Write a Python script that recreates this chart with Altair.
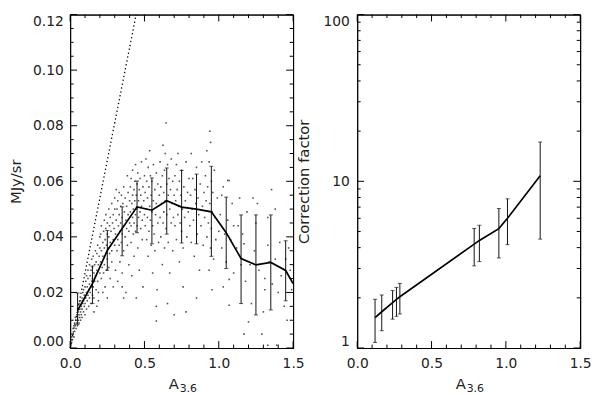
import altair as alt
import pandas as pd

FONT = "DejaVu Sans"
TXT = "#222222"
W, H = 226, 338

# ---------------- left panel data ----------------
bin_x = [0.05, 0.15, 0.25, 0.35, 0.45, 0.55, 0.65, 0.75, 0.85, 0.95, 1.05, 1.15, 1.25, 1.35, 1.45]
bin_y = [0.0135, 0.0232, 0.0351, 0.0430, 0.0508, 0.0496, 0.0530, 0.0507, 0.0500, 0.0490, 0.0415, 0.0322, 0.0299, 0.0308, 0.0279]
bin_lo = [0.0085, 0.0160, 0.0280, 0.0332, 0.0415, 0.0375, 0.0410, 0.0378, 0.0375, 0.0330, 0.0286, 0.0160, 0.0119, 0.0137, 0.0170]
bin_hi = [0.0198, 0.0295, 0.0423, 0.0508, 0.0601, 0.0612, 0.0648, 0.0639, 0.0626, 0.0654, 0.0543, 0.0479, 0.0479, 0.0479, 0.0386]
line_end_x = [1.5]
line_end_y = [0.0232]

dot_x = [0.0, 0.444]
dot_y = [0.0, 0.12]

pts_a = [(0.005, 0.001), (0.01, 0.002), (0.01, 0.004), (0.015, 0.003), (0.02, 0.005), (0.02, 0.007),
         (0.025, 0.004), (0.025, 0.008), (0.03, 0.006), (0.03, 0.009), (0.035, 0.008), (0.035, 0.011),
         (0.04, 0.007), (0.04, 0.01), (0.045, 0.009), (0.045, 0.012), (0.05, 0.008), (0.05, 0.011),
         (0.05, 0.014), (0.055, 0.01), (0.055, 0.013), (0.06, 0.009), (0.06, 0.012), (0.06, 0.016),
         (0.065, 0.011), (0.065, 0.014), (0.07, 0.013), (0.07, 0.017), (0.07, 0.01), (0.075, 0.015),
         (0.075, 0.012), (0.08, 0.014), (0.08, 0.018), (0.08, 0.011), (0.085, 0.016), (0.085, 0.02),
         (0.09, 0.013), (0.09, 0.017), (0.09, 0.021), (0.095, 0.015), (0.095, 0.019), (0.1, 0.016),
         (0.1, 0.012), (0.1, 0.022)]
pts_b = [(0.105, 0.018), (0.105, 0.024), (0.11, 0.014), (0.11, 0.02), (0.11, 0.026), (0.115, 0.017),
         (0.115, 0.022), (0.12, 0.019), (0.12, 0.025), (0.12, 0.028), (0.125, 0.015), (0.125, 0.021),
         (0.13, 0.023), (0.13, 0.018), (0.13, 0.03), (0.135, 0.02), (0.135, 0.026), (0.14, 0.022),
         (0.14, 0.028), (0.14, 0.016), (0.145, 0.024), (0.145, 0.032), (0.15, 0.019), (0.15, 0.025),
         (0.15, 0.029), (0.155, 0.022), (0.155, 0.033), (0.16, 0.027), (0.16, 0.018), (0.165, 0.024),
         (0.165, 0.03), (0.17, 0.026), (0.17, 0.035), (0.175, 0.021), (0.175, 0.031), (0.18, 0.028),
         (0.18, 0.034), (0.185, 0.024), (0.185, 0.037), (0.19, 0.03), (0.19, 0.02), (0.195, 0.033),
         (0.2, 0.027), (0.2, 0.036), (0.2, 0.04), (0.16, 0.013), (0.18, 0.015), (0.19, 0.017)]
pts_c = [(0.205, 0.031), (0.205, 0.041), (0.21, 0.025), (0.21, 0.035), (0.21, 0.044), (0.215, 0.029),
         (0.22, 0.033), (0.22, 0.038), (0.22, 0.02), (0.225, 0.042), (0.225, 0.027), (0.23, 0.036),
         (0.23, 0.046), (0.23, 0.03), (0.235, 0.039), (0.235, 0.022), (0.24, 0.034), (0.24, 0.043),
         (0.24, 0.048), (0.245, 0.028), (0.245, 0.037), (0.25, 0.032), (0.25, 0.041), (0.25, 0.045),
         (0.25, 0.018), (0.255, 0.036), (0.26, 0.04), (0.26, 0.029), (0.26, 0.05), (0.265, 0.034),
         (0.265, 0.044), (0.27, 0.038), (0.27, 0.047), (0.27, 0.025), (0.275, 0.042), (0.28, 0.035),
         (0.28, 0.052), (0.28, 0.031), (0.285, 0.045), (0.29, 0.039), (0.29, 0.048), (0.29, 0.022),
         (0.295, 0.043), (0.3, 0.037), (0.3, 0.05), (0.3, 0.054)]
pts_d = [(0.305, 0.041), (0.305, 0.028), (0.31, 0.046), (0.31, 0.057), (0.315, 0.035), (0.315, 0.05),
         (0.32, 0.039), (0.32, 0.053), (0.32, 0.024), (0.325, 0.044), (0.33, 0.048), (0.33, 0.037),
         (0.33, 0.056), (0.335, 0.042), (0.335, 0.031), (0.34, 0.051), (0.34, 0.045), (0.345, 0.038),
         (0.345, 0.055), (0.35, 0.047), (0.35, 0.041), (0.35, 0.027), (0.355, 0.052), (0.36, 0.044),
         (0.36, 0.058), (0.36, 0.035), (0.365, 0.049), (0.37, 0.04), (0.37, 0.054), (0.375, 0.046),
         (0.375, 0.02), (0.38, 0.051), (0.38, 0.043), (0.385, 0.062), (0.385, 0.037), (0.39, 0.048),
         (0.39, 0.056), (0.395, 0.042), (0.395, 0.03), (0.4, 0.053), (0.4, 0.045), (0.35, 0.022),
         (0.36, 0.018)]
pts_e = [(0.405, 0.049), (0.405, 0.058), (0.41, 0.044), (0.41, 0.038), (0.41, 0.061), (0.415, 0.052),
         (0.415, 0.026), (0.42, 0.047), (0.42, 0.055), (0.42, 0.064), (0.425, 0.041), (0.425, 0.05),
         (0.43, 0.057), (0.43, 0.045), (0.43, 0.033), (0.435, 0.053), (0.435, 0.06), (0.44, 0.048),
         (0.44, 0.042), (0.44, 0.066), (0.445, 0.055), (0.445, 0.018), (0.45, 0.05), (0.45, 0.059),
         (0.45, 0.044), (0.455, 0.063), (0.455, 0.036), (0.46, 0.053), (0.46, 0.047), (0.465, 0.057),
         (0.465, 0.028), (0.47, 0.061), (0.47, 0.049), (0.475, 0.043), (0.475, 0.055), (0.48, 0.067),
         (0.48, 0.051), (0.485, 0.046), (0.485, 0.039), (0.49, 0.058), (0.49, 0.022), (0.495, 0.053),
         (0.5, 0.048), (0.5, 0.062)]
pts_f = [(0.505, 0.044), (0.505, 0.056), (0.51, 0.068), (0.51, 0.05), (0.515, 0.039), (0.515, 0.06),
         (0.52, 0.054), (0.52, 0.047), (0.525, 0.065), (0.525, 0.033), (0.53, 0.058), (0.53, 0.042),
         (0.535, 0.051), (0.535, 0.071), (0.54, 0.046), (0.54, 0.062), (0.545, 0.037), (0.545, 0.055),
         (0.55, 0.049), (0.55, 0.06), (0.555, 0.027), (0.555, 0.044), (0.56, 0.066), (0.56, 0.053),
         (0.565, 0.041), (0.57, 0.057), (0.57, 0.035), (0.575, 0.048), (0.58, 0.063), (0.58, 0.052),
         (0.58, 0.015), (0.58, 0.0097), (0.585, 0.021), (0.59, 0.045), (0.59, 0.059), (0.595, 0.038),
         (0.6, 0.055)]
pts_g = [(0.605, 0.047), (0.605, 0.067), (0.61, 0.058), (0.61, 0.04), (0.615, 0.052), (0.62, 0.062),
         (0.62, 0.03), (0.625, 0.045), (0.625, 0.073), (0.63, 0.056), (0.63, 0.049), (0.635, 0.064),
         (0.635, 0.036), (0.64, 0.053), (0.64, 0.07), (0.645, 0.081), (0.645, 0.043), (0.65, 0.059),
         (0.65, 0.048), (0.655, 0.066), (0.655, 0.016), (0.66, 0.055), (0.66, 0.038), (0.665, 0.061),
         (0.67, 0.05), (0.67, 0.027), (0.675, 0.057), (0.68, 0.045), (0.68, 0.068), (0.685, 0.052),
         (0.69, 0.035), (0.69, 0.06), (0.695, 0.047), (0.7, 0.055), (0.7, 0.012)]
pts_h = [(0.705, 0.062), (0.705, 0.044), (0.71, 0.053), (0.715, 0.066), (0.715, 0.039), (0.72, 0.057),
         (0.725, 0.048), (0.725, 0.07), (0.73, 0.051), (0.735, 0.031), (0.735, 0.06), (0.74, 0.045),
         (0.745, 0.055), (0.75, 0.064), (0.75, 0.042), (0.755, 0.05), (0.76, 0.036), (0.76, 0.022),
         (0.765, 0.058), (0.77, 0.047), (0.775, 0.053), (0.78, 0.013), (0.78, 0.067), (0.785, 0.04),
         (0.79, 0.056), (0.795, 0.049), (0.8, 0.061)]
pts_i = [(0.805, 0.044), (0.81, 0.055), (0.815, 0.07), (0.815, 0.038), (0.82, 0.05), (0.825, 0.061),
         (0.83, 0.046), (0.835, 0.033), (0.84, 0.057), (0.845, 0.052), (0.85, 0.018), (0.85, 0.065),
         (0.855, 0.041), (0.86, 0.054), (0.865, 0.048), (0.87, 0.028), (0.875, 0.059), (0.88, 0.044),
         (0.885, 0.067), (0.89, 0.051), (0.895, 0.037), (0.9, 0.056)]
pts_j = [(0.905, 0.047), (0.91, 0.062), (0.915, 0.053), (0.92, 0.071), (0.92, 0.04), (0.925, 0.058),
         (0.93, 0.045), (0.935, 0.067), (0.935, 0.028), (0.94, 0.078), (0.94, 0.052), (0.945, 0.074),
         (0.945, 0.036), (0.95, 0.06), (0.95, 0.043), (0.955, 0.049), (0.955, 0.021), (0.96, 0.056),
         (0.965, 0.032), (0.97, 0.064), (0.975, 0.047), (0.98, 0.039), (0.99, 0.054), (1.0, 0.042)]
pts_k = [(1.01, 0.048), (1.02, 0.036), (1.02, 0.055), (1.03, 0.058), (1.03, 0.022), (1.04, 0.041),
         (1.05, 0.031), (1.06, 0.046), (1.06, 0.0603), (1.07, 0.0603), (1.07, 0.0247), (1.07, 0.0154),
         (1.08, 0.039), (1.09, 0.052), (1.1, 0.027), (1.1, 0.044), (1.12, 0.036), (1.13, 0.044),
         (1.14, 0.054), (1.15, 0.03), (1.16, 0.041), (1.17, 0.0375), (1.17, 0.005), (1.18, 0.024),
         (1.19, 0.049), (1.2, 0.0094), (1.21, 0.03), (1.22, 0.016), (1.23, 0.054), (1.24, 0.035),
         (1.25, 0.045), (1.26, 0.052), (1.27, 0.028), (1.29, 0.005), (1.3, 0.013), (1.31, 0.021),
         (1.31, 0.025), (1.33, 0.001), (1.33, 0.037), (1.33, 0.047), (1.34, 0.031), (1.355, 0.057),
         (1.36, 0.023), (1.38, 0.05), (1.38, 0.032), (1.39, 0.001), (1.4, 0.02), (1.41, 0.038),
         (1.42, 0.026), (1.44, 0.015), (1.45, 0.032), (1.46, 0.01), (1.47, 0.036), (1.48, 0.028),
         (1.49, 0.021)]

# ---------------- right panel data ----------------
cf_x = [0.120, 0.165, 0.238, 0.264, 0.287, 0.787, 0.822, 0.953, 1.011, 1.231]
cf_y = [1.52, 1.65, 1.87, 1.96, 2.03, 4.20, 4.42, 5.20, 6.00, 10.8]
cf_lo = [1.08, 1.27, 1.49, 1.55, 1.60, 3.11, 3.30, 3.47, 4.17, 4.50]
cf_hi = [1.96, 2.08, 2.21, 2.31, 2.44, 5.21, 5.45, 6.87, 7.85, 17.2]

# ---------------- axis / text definitions ----------------
x_dom = [0.0, 1.5]
yl_dom = [0.0, 0.12]
yr_dom = [1, 100]
x_major = [0.0, 0.5, 1.0, 1.5]
x_minor = [0.1, 0.2, 0.3, 0.4, 0.6, 0.7, 0.8, 0.9, 1.1, 1.2, 1.3, 1.4]
yl_major = [0.0, 0.02, 0.04, 0.06, 0.08, 0.10, 0.12]
yl_minor = [0.005, 0.01, 0.015, 0.025, 0.03, 0.035, 0.045, 0.05, 0.055, 0.065, 0.07, 0.075,
            0.085, 0.09, 0.095, 0.105, 0.11, 0.115]
yr_major = [1, 10, 100]
yr_minor = [2, 3, 4, 5, 6, 7, 8, 9, 20, 30, 40, 50, 60, 70, 80, 90]
left_ytitle = "MJy/sr"
right_ytitle = "Correction factor"
xtitle_main = ["A"]
xtitle_sub = ["3.6"]

# ---------------- build ----------------
xs = alt.Scale(domain=x_dom, nice=False, zero=False)
ysl = alt.Scale(domain=yl_dom, nice=False, zero=False)
ysr = alt.Scale(type="log", domain=yr_dom, nice=False)

DOM = dict(domain=True, domainColor="black", domainWidth=1, domainOpacity=1)
XAX = alt.Axis(values=x_major, format=".1f", title=None, labelPadding=9, labelFlush=False, **DOM)
YAX_L = alt.Axis(values=yl_major, format=".2f", title=left_ytitle,
                 labelFlush=True, labelPadding=7, titlePadding=9, **DOM)
YAX_R = alt.Axis(values=yr_major, format="d", title=right_ytitle,
                 labelFlush=True, labelPadding=8, titlePadding=12, **DOM)
XAX_TOP = alt.Axis(orient="top", labels=False, title=None, minExtent=0, **DOM)
YAX_RIGHT = alt.Axis(orient="right", labels=False, title=None, minExtent=0, **DOM)

MAJ, MIN = 7, 3.5


def Xn(field):
    return alt.X(field, scale=xs, axis=None)


def tick_layers(ymaj, ymin, yscale):
    layers = []
    for vals, ln in ((x_major, MAJ), (x_minor, MIN)):
        d = pd.DataFrame({"tx": vals})
        b = alt.Chart(d).mark_rule(color="black", strokeWidth=1)
        layers.append(b.encode(x=alt.X("tx:Q", scale=xs, axis=None), y=alt.value(H), y2=alt.value(H - ln)))
        layers.append(b.encode(x=alt.X("tx:Q", scale=xs, axis=None), y=alt.value(0), y2=alt.value(ln)))
    for vals, ln in ((ymaj, MAJ), (ymin, MIN)):
        d = pd.DataFrame({"ty": vals})
        b = alt.Chart(d).mark_rule(color="black", strokeWidth=1)
        ye = alt.Y("ty:Q", scale=yscale, axis=None)
        layers.append(b.encode(y=ye, x=alt.value(0), x2=alt.value(ln)))
        layers.append(b.encode(y=ye, x=alt.value(W), x2=alt.value(W - ln)))
    return layers


def frame_axes_layer(df, yscale):
    # invisible marks that only carry the top and right axis lines (the frame)
    return alt.Chart(df).mark_point(opacity=0).encode(
        x=alt.X("x:Q", scale=xs, axis=XAX_TOP),
        y=alt.Y("y:Q", scale=yscale, axis=YAX_RIGHT),
    )


def xtitle_layers():
    a = alt.Chart(pd.DataFrame({"t": xtitle_main})).mark_text(
        align="left", baseline="alphabetic", font=FONT, fontSize=15, color=TXT
    ).encode(text="t:N", x=alt.value(100), y=alt.value(H + 42))
    s = alt.Chart(pd.DataFrame({"t": xtitle_sub})).mark_text(
        align="left", baseline="alphabetic", font=FONT, fontSize=11, color=TXT
    ).encode(text="t:N", x=alt.value(111), y=alt.value(H + 45))
    return [a, s]


def errbar_layers(df, yscale):
    bar = alt.Chart(df).mark_rule(color="#111111", strokeWidth=1).encode(
        x=Xn("x:Q"), y=alt.Y("lo:Q", scale=yscale, axis=None), y2="hi:Q")
    clo = alt.Chart(df).mark_tick(orient="horizontal", size=4, thickness=1, color="#111111").encode(
        x=Xn("x:Q"), y=alt.Y("lo:Q", scale=yscale, axis=None))
    chi = alt.Chart(df).mark_tick(orient="horizontal", size=4, thickness=1, color="#111111").encode(
        x=Xn("x:Q"), y=alt.Y("hi:Q", scale=yscale, axis=None))
    return [bar, clo, chi]


# left panel
pts = pts_a + pts_b + pts_c + pts_d + pts_e + pts_f + pts_g + pts_h + pts_i + pts_j + pts_k
scat_df = pd.DataFrame({"x": [p[0] for p in pts], "y": [p[1] for p in pts]})
scatter = alt.Chart(scat_df).mark_square(size=2.5, color="#333333", opacity=0.85).encode(
    x=alt.X("x:Q", scale=xs, axis=XAX), y=alt.Y("y:Q", scale=ysl, axis=YAX_L))
dot_df = pd.DataFrame({"x": dot_x, "y": dot_y})
dotted = alt.Chart(dot_df).mark_line(color="black", strokeWidth=1.3, strokeDash=[1.3, 2.7]).encode(
    x=Xn("x:Q"), y=alt.Y("y:Q", scale=ysl, axis=None))

bin_df = pd.DataFrame({"x": bin_x, "lo": bin_lo, "hi": bin_hi})
line_df = pd.DataFrame({"x": bin_x + line_end_x, "y": bin_y + line_end_y})
prof = alt.Chart(line_df).mark_line(color="black", strokeWidth=1.7).encode(
    x=Xn("x:Q"), y=alt.Y("y:Q", scale=ysl, axis=None))

left = alt.layer(
    scatter, frame_axes_layer(dot_df, ysl), dotted, *errbar_layers(bin_df, ysl), prof,
    *tick_layers(yl_major, yl_minor, ysl),
    *xtitle_layers()
).resolve_axis(x="independent", y="independent").properties(width=W, height=H)

# right panel
cf_df = pd.DataFrame({"x": cf_x, "y": cf_y, "lo": cf_lo, "hi": cf_hi})
cf_line = alt.Chart(cf_df).mark_line(color="black", strokeWidth=1.7).encode(
    x=alt.X("x:Q", scale=xs, axis=XAX), y=alt.Y("y:Q", scale=ysr, axis=YAX_R))

right = alt.layer(
    cf_line, frame_axes_layer(cf_df, ysr), *errbar_layers(cf_df, ysr),
    *tick_layers(yr_major, yr_minor, ysr),
    *xtitle_layers()
).resolve_axis(x="independent", y="independent").properties(width=W, height=H)

chart = alt.hconcat(left, right, spacing=65, bounds="flush").properties(
    padding=0
).configure_view(
    stroke="black", strokeWidth=1
).configure_axis(
    ticks=False, tickSize=0, grid=False,
    labelFont=FONT, labelFontSize=14, labelColor=TXT,
    titleFont=FONT, titleFontSize=15, titleFontWeight="normal", titleColor=TXT,
)

chart.save("out.html", embed_options={"renderer": "svg", "actions": False})
